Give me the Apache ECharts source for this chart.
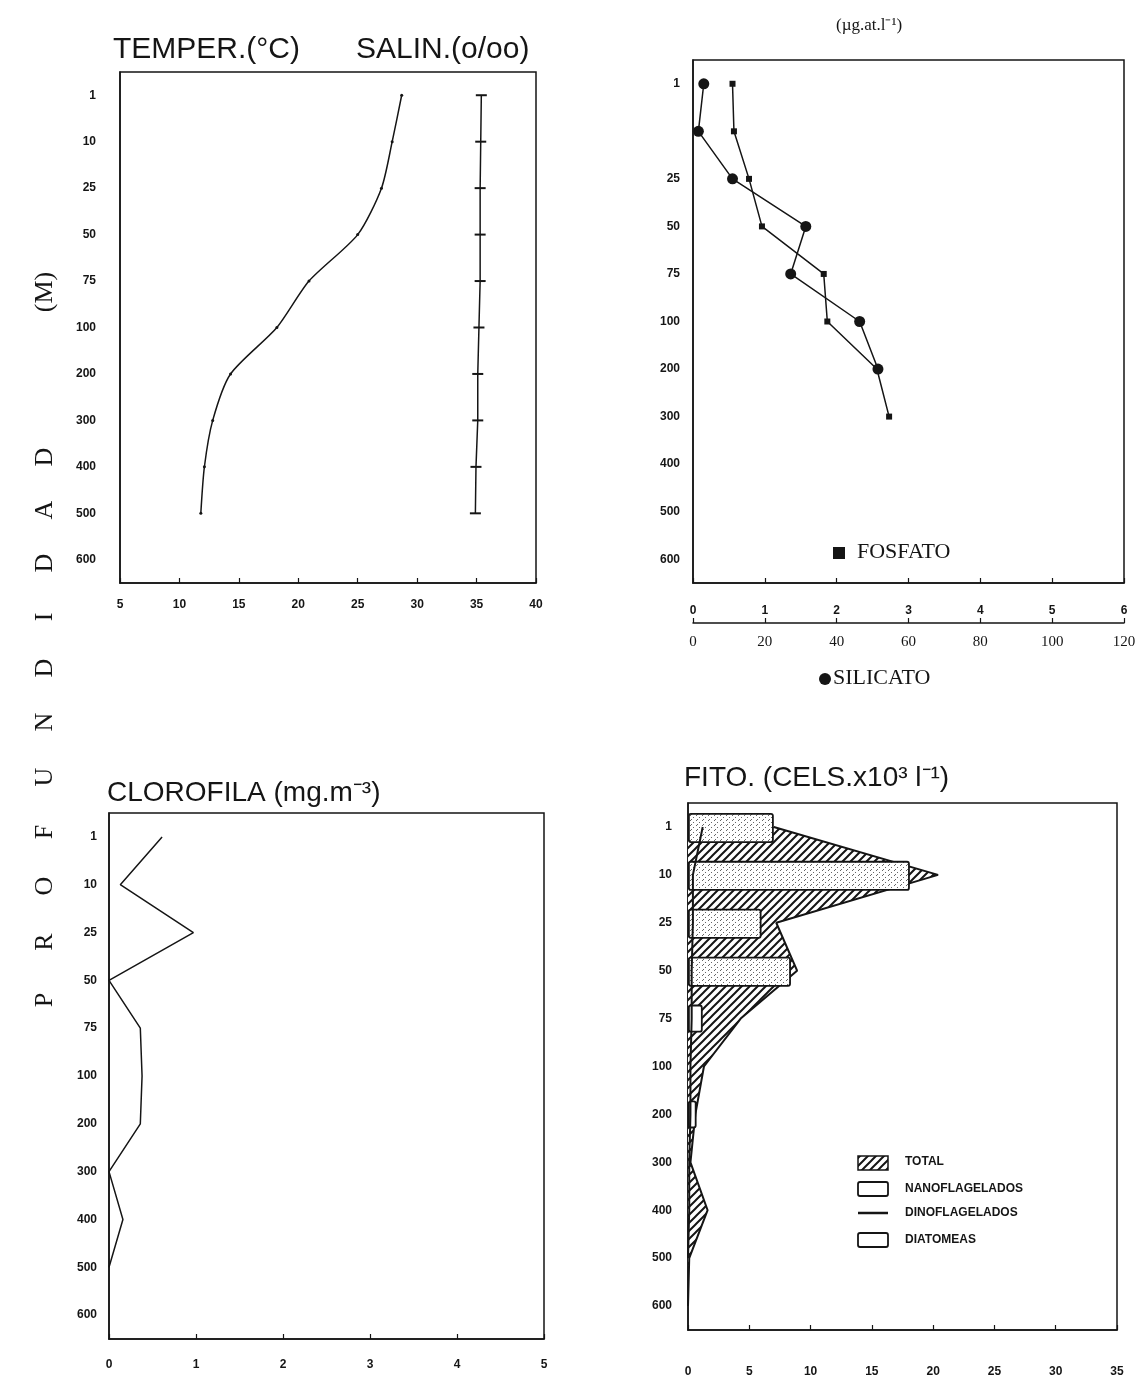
<!DOCTYPE html>
<html>
<head>
<meta charset="utf-8">
<script src="https://cdn.jsdelivr.net/npm/echarts/dist/echarts.min.js"></script>
<style>
  html, body { margin: 0; background: #fff; }
  #main { width: 1139px; height: 1389px; }
</style>
</head>
<body>
<div id="main"></div>
<script>
// profundidad (m) - eje comun de los 4 paneles
var depths = ['1', '10', '25', '50', '75', '100', '200', '300', '400', '500', '600'];

// panel 1
var temperatura = [28.7, 27.9, 27.0, 25.0, 20.9, 18.2, 14.3, 12.8, 12.1, 11.8];
var salinidad = [35.4, 35.35, 35.3, 35.3, 35.3, 35.2, 35.1, 35.1, 34.95, 34.9];
var tempTicks = [5, 40, 5];

// panel 2 (ug-at/l)
var fosfato = [0.55, 0.57, 0.78, 0.96, 1.82, 1.87, 2.56, 2.73];
var silicato = [3.0, 1.5, 11.0, 31.4, 27.2, 46.4, 51.5];

// panel 3
var clorofila = [0.61, 0.13, 0.97, 0.0, 0.36, 0.38, 0.36, 0.0, 0.16, 0.0];

// panel 4 (cels x10^3 / l)
var fitoTotal = [7.0, 20.4, 7.2, 8.9, 4.3, 1.3, 0.6, 0.2, 1.6, 0.1, 0];
var nanoflagelados = [7.0, 18.1, 6.0, 8.4, '-', '-', '-', '-', '-', '-', '-'];
var dinoflagelados = [1.2, 0.4, 0.4, 0.3, 0.3, 0.2, 0.2, 0.1, 0.1, 0.0];
var diatomeas = ['-', '-', '-', '-', 1.2, '-', 0.7, '-', '-', '-', '-'];

var INK = '#151515';

init();

function init() {
    var chart = echarts.init(document.getElementById('main'));
    chart.setOption(buildOption());
}

// rayado ////
function hatchPattern() {
    var c = document.createElement('canvas');
    c.width = 8; c.height = 8;
    var ctx = c.getContext('2d');
    ctx.fillStyle = '#fff';
    ctx.fillRect(0, 0, 8, 8);
    ctx.strokeStyle = INK;
    ctx.lineWidth = 2;
    ctx.beginPath();
    ctx.moveTo(-2, 10); ctx.lineTo(10, -2);
    ctx.moveTo(-6, 6); ctx.lineTo(6, -6);
    ctx.moveTo(2, 14); ctx.lineTo(14, 2);
    ctx.stroke();
    return { image: c, repeat: 'repeat' };
}

// punteado de los nanoflagelados
function dotPattern() {
    var c = document.createElement('canvas');
    c.width = 6; c.height = 5;
    var ctx = c.getContext('2d');
    ctx.fillStyle = '#fff';
    ctx.fillRect(0, 0, 6, 5);
    ctx.fillStyle = '#666';
    ctx.fillRect(0, 0, 1, 1);
    ctx.fillRect(3, 2, 1, 1);
    ctx.fillRect(1, 4, 1, 1);
    return { image: c, repeat: 'repeat' };
}

function depthAxis(gridIndex, margin, hide10) {
    return {
        type: 'category',
        gridIndex: gridIndex,
        data: depths,
        inverse: true,
        axisLine: { lineStyle: { color: INK, width: 1.5 } },
        axisTick: { inside: true, alignWithLabel: true, length: 7, lineStyle: { color: INK, width: 1.5 } },
        axisLabel: {
            margin: margin, color: INK, fontSize: 12, fontWeight: 'bold', fontFamily: 'Liberation Sans',
            formatter: function(v) { return (hide10 && v === '10') ? '' : v; }
        }
    };
}

function valueAxis(gridIndex, min, max, interval, margin, extra) {
    var ax = {
        type: 'value',
        gridIndex: gridIndex,
        min: min, max: max, interval: interval,
        splitLine: { show: false },
        axisLine: { show: true, lineStyle: { color: INK, width: 1.5 } },
        axisTick: { show: true, inside: true, length: 5, lineStyle: { color: INK, width: 1.2 } },
        axisLabel: { margin: margin, color: INK, fontSize: 12, fontWeight: 'bold', fontFamily: 'Liberation Sans' }
    };
    for (var k in extra) ax[k] = extra[k];
    return ax;
}

function gridBox(left, top, width, height) {
    return {
        left: left, top: top, width: width, height: height,
        show: true, borderColor: INK, borderWidth: 1.5,
        backgroundColor: 'transparent',
        containLabel: false, outerBoundsMode: 'none'
    };
}

function txt(left, top, text, font, extra) {
    var o = { type: 'text', left: left, top: top, style: { text: text, font: font, fill: INK } };
    for (var k in extra) o[k] = extra[k];
    return o;
}

function buildOption() {
    var hatch = hatchPattern();
    var dots = dotPattern();
    var thin = { color: INK, width: 1.5 };

    // PROFUNDIDAD (M) vertical
    var letters = ['P', 'R', 'O', 'F', 'U', 'N', 'D', 'I', 'D', 'A', 'D'];
    var letterY = [1000, 942, 886, 832, 777, 722, 668, 617, 563, 510, 457];
    var graphics = [];
    letters.forEach(function(l, i) {
        graphics.push({
            type: 'text', x: 45, y: letterY[i], rotation: Math.PI / 2,
            style: { text: l, font: '26px "Liberation Serif"', fill: INK, textAlign: 'center', textVerticalAlign: 'middle', verticalAlign: 'middle' }
        });
    });
    graphics.push({
        type: 'text', x: 45, y: 292, rotation: Math.PI / 2,
        style: { text: '(M)', font: '26px "Liberation Serif"', fill: INK, textAlign: 'center', textVerticalAlign: 'middle', verticalAlign: 'middle' }
    });

    // titulos
    graphics.push(txt(113, 35, 'TEMPER.(°C)', '30px "Liberation Sans"'));
    graphics.push(txt(356, 35, 'SALIN.(o/oo)', '30px "Liberation Sans"'));
    graphics.push(txt(836, 17, '(µg.at.l⁻¹)', '17px "Liberation Serif"'));
    graphics.push(txt(107, 779, 'CLOROFILA (mg.m⁻³)', '28px "Liberation Sans"'));
    graphics.push(txt(684, 764, 'FITO. (CELS.x10³ l⁻¹)', '28px "Liberation Sans"'));

    // leyenda panel 2
    graphics.push({ type: 'rect', shape: { x: 833, y: 547, width: 12, height: 12 }, style: { fill: INK } });
    graphics.push(txt(857, 541, 'FOSFATO', '22px "Liberation Serif"'));
    graphics.push({ type: 'circle', shape: { cx: 825, cy: 679, r: 6 }, style: { fill: INK } });
    graphics.push(txt(833, 667, 'SILICATO', '22px "Liberation Serif"'));

    // leyenda panel 4
    var lf = 'bold 12px "Liberation Sans"';
    graphics.push({ type: 'rect', shape: { x: 858, y: 1156, width: 30, height: 14 }, style: { fill: hatch, stroke: INK, lineWidth: 1.5 } });
    graphics.push(txt(905, 1156, 'TOTAL', lf));
    graphics.push({ type: 'rect', shape: { x: 858, y: 1182, width: 30, height: 14, r: 2 }, style: { fill: '#fff', stroke: INK, lineWidth: 1.8 } });
    graphics.push(txt(905, 1183, 'NANOFLAGELADOS', lf));
    graphics.push({ type: 'line', shape: { x1: 858, y1: 1213, x2: 888, y2: 1213 }, style: { stroke: INK, lineWidth: 2.5 } });
    graphics.push(txt(905, 1207, 'DINOFLAGELADOS', lf));
    graphics.push({ type: 'rect', shape: { x: 858, y: 1233, width: 30, height: 14, r: 2 }, style: { fill: '#fff', stroke: INK, lineWidth: 1.8 } });
    graphics.push(txt(905, 1234, 'DIATOMEAS', lf));

    return {
        backgroundColor: '#fff',
        animation: false,
        grid: [
            gridBox(120, 72, 416, 511),
            gridBox(693, 60, 431, 523),
            gridBox(109, 813, 435, 526),
            gridBox(688, 803, 429, 527)
        ],
        xAxis: [
            valueAxis(0, tempTicks[0], tempTicks[1], tempTicks[2], 16),
            valueAxis(1, 0, 6, 1, 22),
            valueAxis(1, 0, 120, 20, 12, {
                position: 'bottom', offset: 40,
                axisLabel: { margin: 12, color: INK, fontSize: 15, fontFamily: 'Liberation Serif' }
            }),
            valueAxis(2, 0, 5, 1, 20),
            valueAxis(3, 0, 35, 5, 36)
        ],
        yAxis: [
            depthAxis(0, 24, false),
            depthAxis(1, 13, true),
            depthAxis(2, 12, false),
            depthAxis(3, 16, false)
        ],
        series: [
            {
                name: 'Temperatura', type: 'line', xAxisIndex: 0, yAxisIndex: 0,
                data: temperatura, smooth: 0.25, symbol: 'circle', symbolSize: 3,
                itemStyle: { color: INK }, lineStyle: thin
            },
            {
                name: 'Salinidad', type: 'line', xAxisIndex: 0, yAxisIndex: 0,
                data: salinidad, symbol: 'rect', symbolSize: [11, 2],
                itemStyle: { color: INK }, lineStyle: thin
            },
            {
                name: 'FOSFATO', type: 'line', xAxisIndex: 1, yAxisIndex: 1,
                data: fosfato, symbol: 'rect', symbolSize: 6,
                itemStyle: { color: INK }, lineStyle: thin
            },
            {
                name: 'SILICATO', type: 'line', xAxisIndex: 2, yAxisIndex: 1,
                data: silicato, symbol: 'circle', symbolSize: 11,
                itemStyle: { color: INK }, lineStyle: thin
            },
            {
                name: 'CLOROFILA', type: 'line', xAxisIndex: 3, yAxisIndex: 2,
                data: clorofila, symbol: 'none',
                lineStyle: thin
            },
            {
                name: 'TOTAL', type: 'line', xAxisIndex: 4, yAxisIndex: 3,
                data: fitoTotal, symbol: 'none', z: 1,
                lineStyle: { color: INK, width: 2 },
                areaStyle: { color: hatch, opacity: 1 }
            },
            {
                name: 'NANOFLAGELADOS', type: 'bar', xAxisIndex: 4, yAxisIndex: 3,
                data: nanoflagelados, barWidth: 30, barGap: '-100%', z: 3,
                itemStyle: { color: dots, borderColor: INK, borderWidth: 1.8, borderRadius: 2 }
            },
            {
                name: 'DIATOMEAS', type: 'bar', xAxisIndex: 4, yAxisIndex: 3,
                data: diatomeas, barWidth: 28, barGap: '-100%', z: 3,
                itemStyle: { color: '#fff', borderColor: INK, borderWidth: 1.8, borderRadius: 2 }
            },
            {
                name: 'DINOFLAGELADOS', type: 'line', xAxisIndex: 4, yAxisIndex: 3,
                data: dinoflagelados, symbol: 'none', z: 4,
                lineStyle: { color: INK, width: 2 }
            }
        ],
        graphic: graphics
    };
}
</script>
</body>
</html>
